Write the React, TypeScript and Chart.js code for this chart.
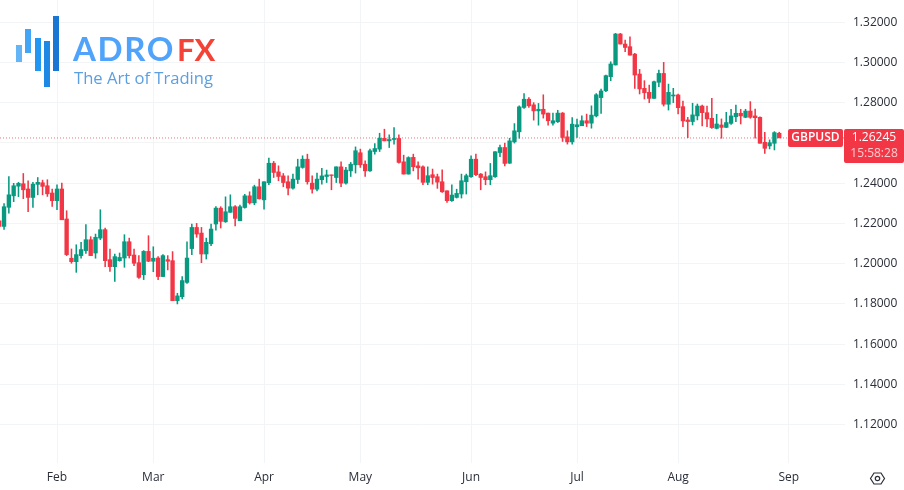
import React, { useEffect, useRef } from "react";
import { Chart, registerables } from "chart.js";

Chart.register(...registerables);

const opens = [
  1.2213, 1.2185, 1.2280, 1.2337, 1.2385, 1.2397, 1.2371, 1.2329, 1.2394, 1.2402,
  1.2387, 1.2351, 1.2313, 1.2371, 1.2222, 1.2027, 1.2010, 1.2040, 1.2065, 1.2119,
  1.2053, 1.2127, 1.2169, 1.2020, 1.1985, 1.2015, 1.2028, 1.2109, 1.2043, 1.2005,
  1.1945, 1.2061, 1.2012, 1.2028, 1.1936, 1.2020, 1.2015, 1.1816, 1.1836, 1.1907,
  1.2075, 1.2180, 1.2152, 1.2048, 1.2099, 1.2197, 1.2276, 1.2208, 1.2255, 1.2283,
  1.2213, 1.2279, 1.2337, 1.2302, 1.2382, 1.2317, 1.2402, 1.2499, 1.2456, 1.2436,
  1.2407, 1.2375, 1.2418, 1.2478, 1.2519, 1.2400, 1.2370, 1.2417, 1.2433, 1.2441,
  1.2428, 1.2481, 1.2400, 1.2461, 1.2491, 1.2551, 1.2494, 1.2461, 1.2557, 1.2569,
  1.2623, 1.2610, 1.2617, 1.2622, 1.2506, 1.2445, 1.2528, 1.2486, 1.2481, 1.2404,
  1.2442, 1.2432, 1.2407, 1.2362, 1.2313, 1.2329, 1.2346, 1.2407, 1.2432, 1.2519,
  1.2445, 1.2432, 1.2417, 1.2432, 1.2552, 1.2577, 1.2499, 1.2605, 1.2655, 1.2776,
  1.2817, 1.2789, 1.2759, 1.2767, 1.2748, 1.2698, 1.2705, 1.2748, 1.2630, 1.2605,
  1.2680, 1.2685, 1.2710, 1.2698, 1.2734, 1.2825, 1.2859, 1.2929, 1.2987, 1.3141,
  1.3091, 1.3078, 1.3041, 1.2942, 1.2871, 1.2851, 1.2821, 1.2901, 1.2945, 1.2792,
  1.2833, 1.2838, 1.2780, 1.2714, 1.2706, 1.2734, 1.2783, 1.2750, 1.2722, 1.2672,
  1.2689, 1.2677, 1.2697, 1.2730, 1.2747, 1.2727, 1.2758, 1.2734, 1.2727, 1.2603,
  1.2585, 1.2598, 1.2648,
];
const closes = [
  1.2185, 1.2283, 1.2342, 1.2387, 1.2399, 1.2367, 1.2329, 1.2395, 1.2404, 1.2384,
  1.2347, 1.2313, 1.2371, 1.2218, 1.2045, 1.2010, 1.2045, 1.2070, 1.2119, 1.2040,
  1.2131, 1.2169, 1.2015, 1.1985, 1.2035, 1.2031, 1.2109, 1.2040, 1.2002, 1.1932,
  1.2061, 1.2012, 1.2027, 1.1936, 1.2040, 1.2012, 1.1816, 1.1840, 1.1916, 1.2028,
  1.2180, 1.2147, 1.2048, 1.2106, 1.2172, 1.2276, 1.2210, 1.2258, 1.2283, 1.2225,
  1.2283, 1.2337, 1.2302, 1.2382, 1.2322, 1.2407, 1.2499, 1.2453, 1.2433, 1.2403,
  1.2375, 1.2420, 1.2481, 1.2519, 1.2407, 1.2370, 1.2420, 1.2436, 1.2441, 1.2438,
  1.2481, 1.2400, 1.2465, 1.2494, 1.2561, 1.2491, 1.2461, 1.2561, 1.2572, 1.2623,
  1.2610, 1.2617, 1.2622, 1.2503, 1.2445, 1.2527, 1.2481, 1.2476, 1.2404, 1.2437,
  1.2428, 1.2405, 1.2357, 1.2313, 1.2341, 1.2349, 1.2412, 1.2437, 1.2519, 1.2442,
  1.2428, 1.2417, 1.2437, 1.2556, 1.2577, 1.2498, 1.2610, 1.2660, 1.2779, 1.2817,
  1.2784, 1.2759, 1.2767, 1.2743, 1.2710, 1.2710, 1.2748, 1.2627, 1.2605, 1.2693,
  1.2690, 1.2710, 1.2698, 1.2738, 1.2839, 1.2858, 1.2934, 1.2992, 1.3141, 1.3091,
  1.3074, 1.3036, 1.2937, 1.2868, 1.2849, 1.2821, 1.2904, 1.2945, 1.2792, 1.2851,
  1.2838, 1.2775, 1.2709, 1.2706, 1.2739, 1.2783, 1.2750, 1.2719, 1.2676, 1.2694,
  1.2677, 1.2701, 1.2734, 1.2747, 1.2734, 1.2758, 1.2727, 1.2725, 1.2598, 1.2573,
  1.2601, 1.2651, 1.26245,
];
const highs = [
  1.2222, 1.2299, 1.2432, 1.2399, 1.2404, 1.2448, 1.2412, 1.2404, 1.2428, 1.2415,
  1.2417, 1.2371, 1.2392, 1.2400, 1.2263, 1.2073, 1.2094, 1.2106, 1.2194, 1.2134,
  1.2147, 1.2268, 1.2177, 1.2073, 1.2048, 1.2053, 1.2144, 1.2127, 1.2073, 1.2040,
  1.2065, 1.2139, 1.2084, 1.2035, 1.2045, 1.2040, 1.2060, 1.1853, 1.1936, 1.2109,
  1.2197, 1.2200, 1.2180, 1.2127, 1.2197, 1.2283, 1.2283, 1.2332, 1.2342, 1.2288,
  1.2291, 1.2345, 1.2357, 1.2390, 1.2420, 1.2407, 1.2524, 1.2508, 1.2486, 1.2448,
  1.2436, 1.2445, 1.2519, 1.2536, 1.2544, 1.2436, 1.2450, 1.2473, 1.2465, 1.2441,
  1.2481, 1.2506, 1.2478, 1.2503, 1.2580, 1.2569, 1.2511, 1.2569, 1.2597, 1.2648,
  1.2668, 1.2640, 1.2676, 1.2640, 1.2539, 1.2531, 1.2544, 1.2506, 1.2486, 1.2481,
  1.2470, 1.2445, 1.2466, 1.2362, 1.2392, 1.2370, 1.2445, 1.2445, 1.2536, 1.2544,
  1.2448, 1.2456, 1.2498, 1.2557, 1.2589, 1.2599, 1.2623, 1.2696, 1.2784, 1.2845,
  1.2825, 1.2800, 1.2796, 1.2839, 1.2748, 1.2748, 1.2762, 1.2751, 1.2660, 1.2726,
  1.2718, 1.2734, 1.2743, 1.2784, 1.2845, 1.2867, 1.2937, 1.3003, 1.3144, 1.3144,
  1.3111, 1.3127, 1.3045, 1.2965, 1.2909, 1.2887, 1.2907, 1.2962, 1.3000, 1.2892,
  1.2871, 1.2843, 1.2808, 1.2727, 1.2797, 1.2793, 1.2788, 1.2783, 1.2821, 1.2742,
  1.2719, 1.2752, 1.2767, 1.2788, 1.2767, 1.2767, 1.2805, 1.2768, 1.2730, 1.2653,
  1.2615, 1.2656, 1.2653,
];
const lows = [
  1.2180, 1.2170, 1.2251, 1.2308, 1.2333, 1.2323, 1.2258, 1.2280, 1.2342, 1.2342,
  1.2334, 1.2285, 1.2268, 1.2218, 1.2040, 1.2002, 1.1957, 1.2027, 1.2051, 1.2040,
  1.2027, 1.2119, 1.1985, 1.1962, 1.1912, 1.2012, 1.1982, 1.2028, 1.1990, 1.1927,
  1.1921, 1.2010, 1.1960, 1.1921, 1.1936, 1.1969, 1.1816, 1.1800, 1.1825, 1.1902,
  1.2045, 1.2131, 1.2005, 1.2023, 1.2089, 1.2167, 1.2177, 1.2205, 1.2255, 1.2188,
  1.2213, 1.2276, 1.2296, 1.2293, 1.2321, 1.2271, 1.2392, 1.2428, 1.2412, 1.2382,
  1.2342, 1.2370, 1.2398, 1.2474, 1.2395, 1.2350, 1.2362, 1.2395, 1.2403, 1.2367,
  1.2403, 1.2382, 1.2395, 1.2433, 1.2450, 1.2478, 1.2433, 1.2458, 1.2544, 1.2557,
  1.2610, 1.2577, 1.2594, 1.2499, 1.2445, 1.2445, 1.2461, 1.2420, 1.2392, 1.2392,
  1.2395, 1.2374, 1.2354, 1.2304, 1.2309, 1.2326, 1.2326, 1.2346, 1.2428, 1.2437,
  1.2367, 1.2392, 1.2392, 1.2428, 1.2531, 1.2486, 1.2498, 1.2599, 1.2623, 1.2771,
  1.2776, 1.2713, 1.2688, 1.2723, 1.2688, 1.2688, 1.2701, 1.2607, 1.2594, 1.2594,
  1.2627, 1.2685, 1.2681, 1.2673, 1.2729, 1.2746, 1.2854, 1.2909, 1.2987, 1.3091,
  1.3053, 1.3036, 1.2871, 1.2843, 1.2818, 1.2800, 1.2821, 1.2879, 1.2783, 1.2763,
  1.2800, 1.2744, 1.2681, 1.2626, 1.2689, 1.2714, 1.2684, 1.2681, 1.2672, 1.2669,
  1.2623, 1.2676, 1.2692, 1.2706, 1.2694, 1.2725, 1.2722, 1.2623, 1.2598, 1.2548,
  1.2570, 1.2565, 1.2626,
];

const monthSessions = [13, 33, 56, 76, 99, 121, 142, 165];
const monthLabels = ["Feb", "Mar", "Apr", "May", "Jun", "Jul", "Aug", "Sep"];
const priceTicks = [1.12, 1.14, 1.16, 1.18, 1.2, 1.22, 1.24, 1.26, 1.28, 1.3, 1.32];
const lastPrice = 1.26245;
const symbolLabel = "GBPUSD";
const countdownLabel = "15:58:28";

const UP = "#089981";
const DOWN = "#F23645";
const FONT = '"Open Sans", sans-serif';
const GRID = "#f3f4f6";
const X_MIN = 1.16;
const X_MAX = 176.66;
const Y_MIN = 1.10098;
const Y_MAX = 1.33098;

const colorAt = (i: number) => (closes[i] >= opens[i] ? UP : DOWN);

const zeroPadding = (s: any) => {
  s.paddingTop = 0;
  s.paddingBottom = 0;
  s.paddingLeft = 0;
  s.paddingRight = 0;
  if (s._margins) {
    s._margins.top = 0;
    s._margins.bottom = 0;
    s._margins.left = 0;
    s._margins.right = 0;
  }
};

const overlay = {
  id: "overlay",
  afterDraw(chart: any) {
    const { ctx } = chart;
    const y = chart.scales.y.getPixelForValue(lastPrice);
    ctx.save();
    // logo marks
    const bars: [number, number, number, number, string][] = [
      [16, 45, 6, 17, "#64B5F6"],
      [25, 29, 6, 24, "#42A5F5"],
      [35, 38, 6, 33, "#2196F3"],
      [44, 41, 6, 46, "#1E88E5"],
      [53, 16, 6, 55, "#1976D2"],
    ];
    bars.forEach(([x, t, w, h, c]) => {
      ctx.fillStyle = c;
      ctx.fillRect(x, t, w, h);
    });
    ctx.textBaseline = "alphabetic";
    ctx.textAlign = "left";
    ctx.font = "700 33px Lato, sans-serif";
    ctx.letterSpacing = "1.6px";
    ctx.fillStyle = "#4FA3FA";
    ctx.fillText("ADRO", 73, 61);
    ctx.letterSpacing = "0px";
    ctx.fillStyle = "#F44336";
    ctx.font = "700 31px Lato, sans-serif";
    ctx.fillText("FX", 177, 61);
    ctx.font = '400 16.6px "Open Sans", sans-serif';
    ctx.fillStyle = "#5C9FE0";
    ctx.fillText("The Art of Trading", 74, 84);

    // symbol & price badges
    ctx.fillStyle = DOWN;
    ctx.beginPath();
    ctx.roundRect(788, y - 9, 55, 18, 2);
    ctx.fill();
    ctx.beginPath();
    ctx.roundRect(844, y - 9, 60, 34, 2);
    ctx.fill();
    ctx.textAlign = "center";
    ctx.textBaseline = "middle";
    ctx.fillStyle = "#ffffff";
    ctx.font = "600 12px " + FONT;
    ctx.fillText(symbolLabel, 815.5, y);
    ctx.font = "12px " + FONT;
    ctx.fillText(lastPrice.toFixed(5), 874, y);
    ctx.fillStyle = "rgba(255,255,255,0.75)";
    ctx.fillText(countdownLabel, 874, y + 16);

    // settings glyph
    const cx = 877.5;
    const cy = 478.5;
    ctx.strokeStyle = "#2a2e39";
    ctx.lineWidth = 1.2;
    ctx.beginPath();
    ctx.moveTo(cx - 7, cy);
    ctx.lineTo(cx - 3.5, cy - 5.5);
    ctx.lineTo(cx + 3.5, cy - 5.5);
    ctx.lineTo(cx + 7, cy);
    ctx.lineTo(cx + 3.5, cy + 5.5);
    ctx.lineTo(cx - 3.5, cy + 5.5);
    ctx.closePath();
    ctx.stroke();
    ctx.beginPath();
    ctx.arc(cx, cy, 2.2, 0, Math.PI * 2);
    ctx.stroke();
    ctx.restore();
  },
};

export default function App() {
  const ref = useRef<HTMLCanvasElement>(null);
  useEffect(() => {
    const wicks = highs.map((h, i) => ({ x: i + 1, y: [lows[i], h] }));
    const bodies = opens.map((o, i) => ({ x: i + 1, y: [o, closes[i]] }));
    const colors = opens.map((_, i) => colorAt(i));
    const chart = new Chart(ref.current as HTMLCanvasElement, {
      type: "bar",
      data: {
        datasets: [
          {
            type: "line",
            data: [
              { x: X_MIN, y: lastPrice },
              { x: X_MAX, y: lastPrice },
            ],
            borderColor: "rgba(242,54,69,0.7)",
            borderWidth: 1,
            borderDash: [1, 2],
            pointRadius: 0,
            order: 3,
          },
          {
            data: wicks,
            backgroundColor: colors,
            barThickness: 0.9,
            grouped: false,
            order: 2,
          },
          {
            data: bodies,
            backgroundColor: colors,
            barThickness: 3.7,
            grouped: false,
            order: 1,
          },
        ] as any,
      },
      options: {
        responsive: false,
        animation: false,
        layout: { padding: 0, autoPadding: false },
        plugins: { legend: { display: false }, tooltip: { enabled: false } },
        scales: {
          x: {
            type: "linear",
            offset: false,
            min: X_MIN,
            max: X_MAX,
            bounds: "data",
            grid: { color: GRID, drawTicks: false, lineWidth: 1, offset: false },
            border: { display: false },
            afterBuildTicks: (s: any) => {
              s.ticks = monthSessions.map((v) => ({ value: v }));
            },
            afterFit: (s: any) => {
              s.height = 27;
              zeroPadding(s);
            },
            ticks: {
              autoSkip: false,
              maxRotation: 0,
              padding: 7,
              color: "#2a2e39",
              font: { family: FONT, size: 12 },
              callback: (v: any) => monthLabels[monthSessions.indexOf(v)] ?? "",
            },
          },
          y: {
            type: "linear",
            position: "right",
            min: Y_MIN,
            max: Y_MAX,
            bounds: "data",
            beginAtZero: false,
            grid: { color: GRID, drawTicks: false, lineWidth: 1 },
            border: { display: false },
            afterBuildTicks: (s: any) => {
              s.ticks = priceTicks.map((v) => ({ value: v }));
            },
            afterFit: (s: any) => {
              s.width = 59;
              zeroPadding(s);
            },
            ticks: {
              padding: 8,
              color: "#2a2e39",
              font: { family: FONT, size: 12 },
              callback: (v: any) => Number(v).toFixed(5),
            },
          },
        },
      },
      plugins: [overlay],
    } as any);
    return () => chart.destroy();
  }, []);
  return (
    <div style={{ position: "absolute", left: 0, top: 0, width: 904, height: 490, background: "#fff" }}>
      <canvas ref={ref} width={904} height={490} style={{ display: "block" }} />
    </div>
  );
}
